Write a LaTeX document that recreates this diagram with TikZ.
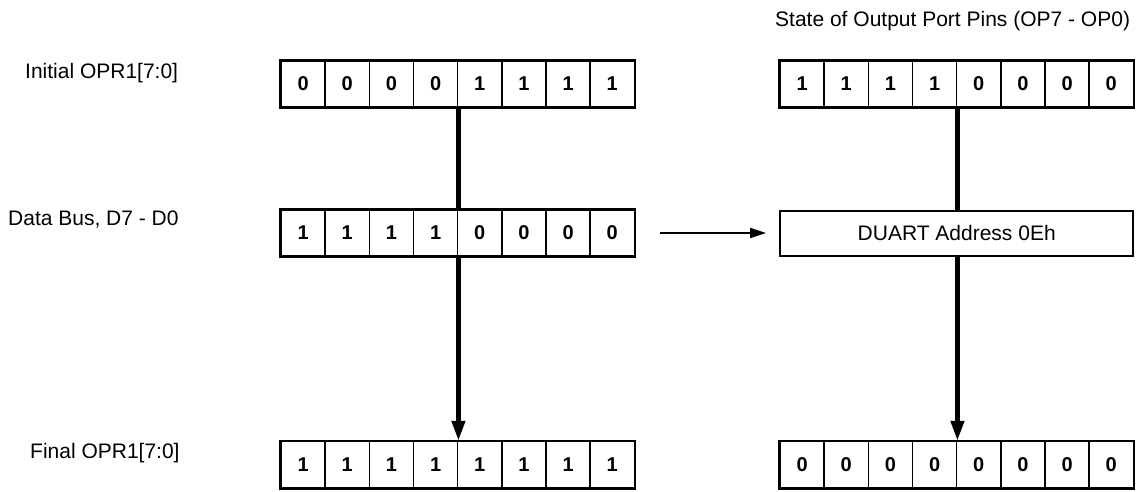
\documentclass[tikz,border=0pt]{standalone}
\usepackage{fontspec}
\setmainfont{Liberation Sans}
\usetikzlibrary{arrows.meta,positioning}

\begin{document}
\begin{tikzpicture}[x=1pt, y=-1pt, font=\fontsize{21}{25}\selectfont,
  cell/.style={draw, line width=1.5pt, minimum width=44.17pt, minimum height=46pt,
    inner sep=0pt, font=\fontsize{20}{24}\selectfont\bfseries},
  frame/.style={draw, line width=2.5pt},
  bus/.style={line width=4.5pt},
  lbl/.style={anchor=base west, inner sep=0pt}]
  \useasboundingbox (0,0) rectangle (1142,492);
  \foreach \b [count=\i] in {0,0,0,0,1,1,1,1}
    \node[cell] (ia\i) at (281+44.17*\i-22.08,84) {\b};
  \foreach \b [count=\i] in {1,1,1,1,0,0,0,0}
    \node[cell] (op\i) at (780+44.17*\i-22.08,84) {\b};
  \foreach \b [count=\i] in {1,1,1,1,0,0,0,0}
    \node[cell] (db\i) at (281+44.17*\i-22.08,233) {\b};
  \foreach \b [count=\i] in {1,1,1,1,1,1,1,1}
    \node[cell] (fa\i) at (281+44.17*\i-22.08,464.5) {\b};
  \foreach \b [count=\i] in {0,0,0,0,0,0,0,0}
    \node[cell] (fo\i) at (780+44.17*\i-22.08,464.5) {\b};
  \foreach \r in {ia,op,db,fa,fo}
    \draw[frame] (\r1.north west) rectangle (\r8.south east);
  \node[draw, line width=2pt, minimum width=353.3pt, minimum height=45pt, inner sep=0pt]
    (duart) at (956.7,233) {DUART Address 0Eh};

  \node[lbl] (initlbl) at (25,79) {Initial OPR1[7:0]};
  \node[lbl] (buslbl) at (8,225) {Data Bus, D7 - D0};
  \node[lbl] (finallbl) at (30,458) {Final OPR1[7:0]};
  \node[lbl] (pinslbl) at (775,27) {State of Output Port Pins (OP7 - OP0)};

  \draw[bus] (ia4.south east) -- (db4.north east);
  \draw[bus, -{Triangle[length=20pt,width=13pt]}] (db4.south east) -- (fa4.north east);
  \draw[bus] (op4.south east) -- (op4.south east |- duart.north);
  \draw[bus, -{Triangle[length=20pt,width=13pt]}] (op4.south east |- duart.south) -- (fo4.north east);
  \draw[line width=2pt, -{Triangle[length=16pt,width=10pt]}, shorten <=25pt, shorten >=13pt]
    (db8.east) -- (db8.east -| duart.west);
\end{tikzpicture}
\end{document}
